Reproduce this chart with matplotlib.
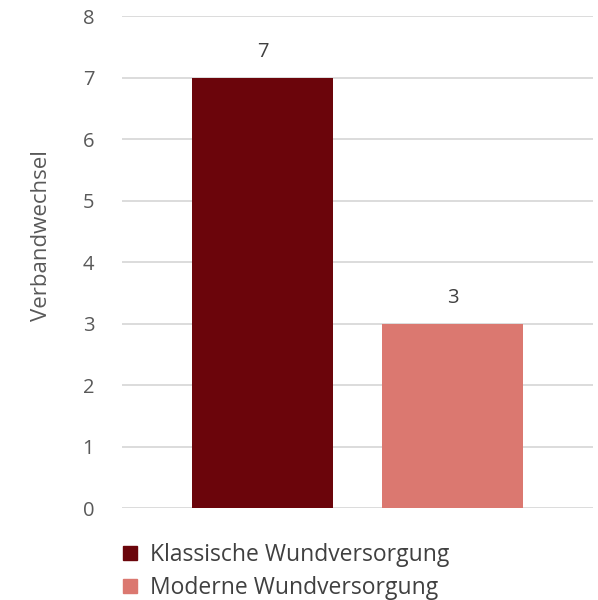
import matplotlib.pyplot as plt
from matplotlib.patches import Patch

plt.rcParams['font.family'] = ['Open Sans', 'DejaVu Sans']

series = ["Klassische Wundversorgung", "Moderne Wundversorgung"]
values = [7, 3]
colors = ["#6B050B", "#DB7870"]
yticks = [0, 1, 2, 3, 4, 5, 6, 7, 8]

fig = plt.figure(figsize=(5.98, 6.0), dpi=100)
ax = fig.add_axes([0.204, 0.1533, 0.788, 0.82])

x = [0, 1]
bars = ax.bar(x, values, width=0.742, color=colors, zorder=3)
for b, v in zip(bars, values):
    ax.text(b.get_x() + b.get_width() / 2, v + 0.25, str(v), ha='center', va='bottom',
            fontsize=14.5, color='#404040')

ax.set_xlim(-0.7395, 1.7395)
ax.set_ylim(0, 8)
ax.set_yticks(yticks)
ax.set_xticks([])
ax.grid(axis='y', color='#D9D9D9', linewidth=1.3, zorder=0)
for s in ['top', 'right', 'left', 'bottom']:
    ax.spines[s].set_visible(False)
ax.tick_params(axis='y', length=0, pad=20, labelsize=14.5, labelcolor='#595959')
ax.set_ylabel("Verbandwechsel", fontsize=16, color='#595959')
ax.yaxis.set_label_coords(-0.148, 0.553)

handles = [Patch(color=c) for c in colors]
fig.legend(handles, series, loc='upper left', bbox_to_anchor=(0.19, 0.11),
           frameon=False, fontsize=16.5, labelcolor='#404040', handlelength=0.6,
           handleheight=0.6, handletextpad=0.6, labelspacing=0.38, borderaxespad=0)

fig.savefig("out.png", dpi=100)
